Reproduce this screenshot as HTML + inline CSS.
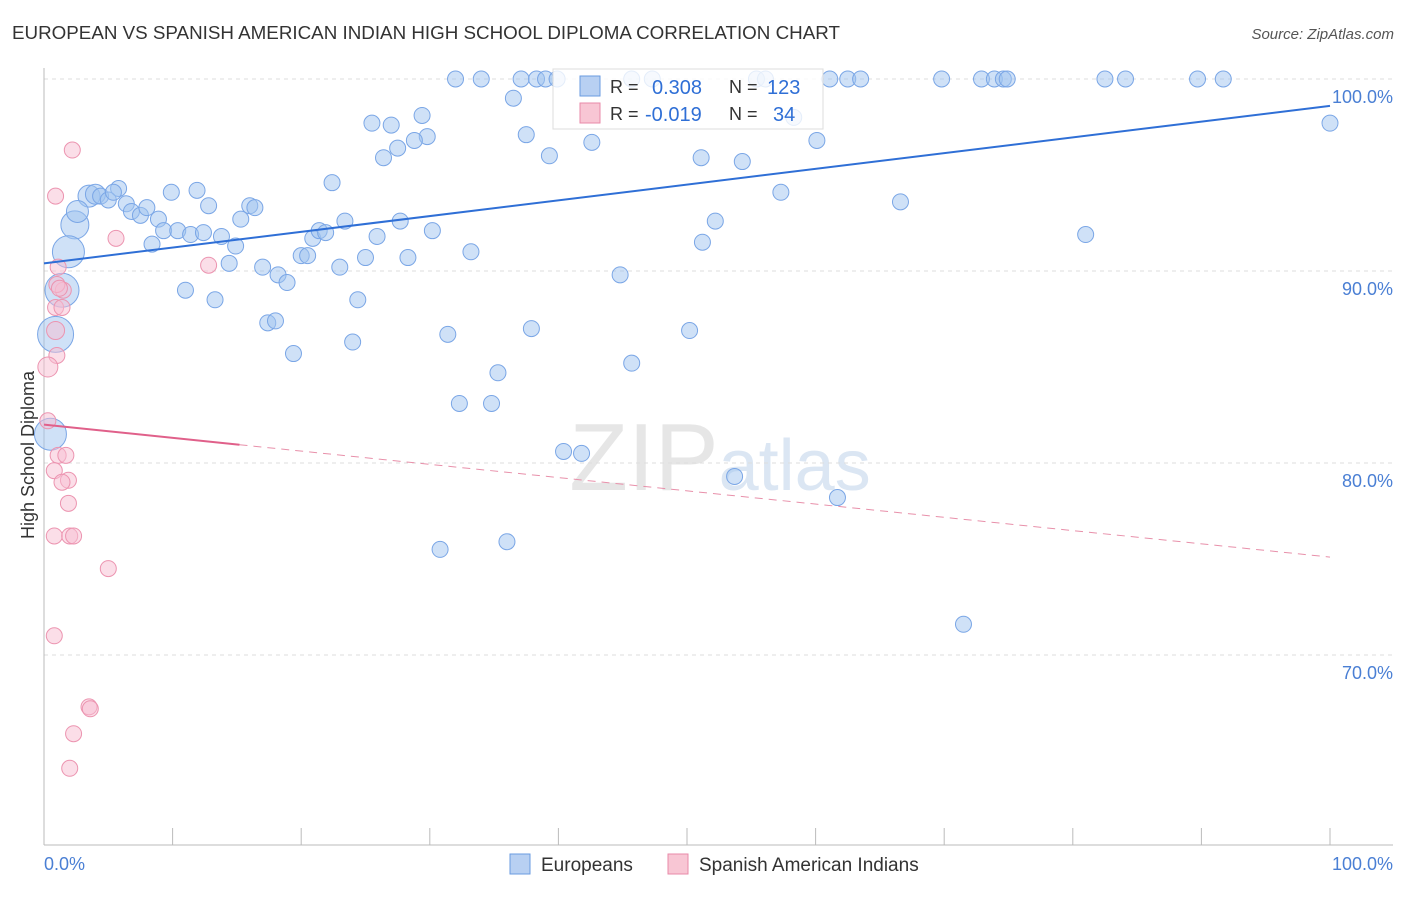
<!DOCTYPE html>
<html><head><meta charset="utf-8"><style>
body{margin:0;background:#fff;font-family:"Liberation Sans",sans-serif;}
svg text{font-family:"Liberation Sans",sans-serif;}
</style></head><body>
<svg id="c" width="1406" height="892" xmlns="http://www.w3.org/2000/svg">
<text x="12" y="39" font-size="18.8" fill="#333">EUROPEAN VS SPANISH AMERICAN INDIAN HIGH SCHOOL DIPLOMA CORRELATION CHART</text>
<text x="1394" y="39" font-size="15" fill="#555" font-style="italic" text-anchor="end">Source: ZipAtlas.com</text>
<text x="720" y="490" font-size="96" fill="#e6e6e6" text-anchor="middle" font-family="Liberation Serif">ZIP<tspan fill="#dbe6f3" font-family="Liberation Sans" font-size="72">atlas</tspan></text>
<g id="grid"></g>
<g id="axes"></g>
<g id="pts"></g>
<g id="trend"></g>
<text transform="translate(34,455) rotate(-90)" font-size="18" fill="#333" text-anchor="middle">High School Diploma</text>
<text x="44" y="870" font-size="18" fill="#4a7fd4">0.0%</text>
<text x="1393" y="870" font-size="18" fill="#4a7fd4" text-anchor="end">100.0%</text>
<g>
<rect x="553" y="69" width="270" height="60" fill="#fff" fill-opacity="0.8" stroke="#ddd"/>
<rect x="580" y="76" width="20" height="20" fill="#b8d0f2" stroke="#6a9be0"/>
<rect x="580" y="103" width="20" height="20" fill="#f8c6d4" stroke="#e88aa8"/>
<text x="610" y="93" font-size="18" fill="#333">R =</text>
<text x="652" y="94" font-size="20" fill="#2f6fd6">0.308</text>
<text x="729" y="93" font-size="18" fill="#333">N =</text>
<text x="767" y="94" font-size="20" fill="#2f6fd6">123</text>
<text x="610" y="120" font-size="18" fill="#333">R =</text>
<text x="645" y="121" font-size="20" fill="#2f6fd6">-0.019</text>
<text x="729" y="120" font-size="18" fill="#333">N =</text>
<text x="773" y="121" font-size="20" fill="#2f6fd6">34</text>
</g>
<g>
<rect x="510" y="854" width="20" height="20" fill="#b8d0f2" stroke="#6a9be0"/>
<text x="541" y="871" font-size="19" fill="#333">Europeans</text>
<rect x="668" y="854" width="20" height="20" fill="#f8c6d4" stroke="#e88aa8"/>
<text x="699" y="871" font-size="19" fill="#333">Spanish American Indians</text>
</g>
</svg>
<script>
const yTicks=[100,90,80,70];
const xTickCount=10;
const blueX=[32.0,34.0,37.1,38.3,39.0,39.9,45.7,47.3,55.4,56.1,61.1,62.5,63.5,69.8,72.9,73.9,74.6,74.9,82.5,84.1,89.7,91.7,100,36.5,29.4,25.5,27.0,37.5,29.8,28.8,27.5,26.4,39.3,42.6,51.1,54.3,60.1,58.3,22.4,57.3,66.6,52.2,51.2,81.0,3.5,4.0,5.8,4.4,5.0,5.4,9.9,11.9,6.4,6.8,7.5,8.0,8.9,9.3,10.4,11.4,12.4,12.8,13.8,14.9,15.3,16.0,16.4,8.4,14.4,17.0,18.2,18.9,20.0,20.5,20.9,21.4,21.9,23.4,23.0,25.0,25.9,27.7,28.3,30.2,33.2,24.4,24.0,19.4,17.4,18.0,11.0,13.3,31.4,37.9,44.8,50.2,35.3,32.3,34.8,45.7,40.4,41.8,53.7,61.7,30.8,36.0,71.5,2.4,1.9,2.6,1.4,0.9,0.5];
const blueY=[100,100,100,100,100,100,100,100,100,100,100,100,100,100,100,100,100,100,100,100,100,100,97.7,99.0,98.1,97.7,97.6,97.1,97.0,96.8,96.4,95.9,96.0,96.7,95.9,95.7,96.8,98.0,94.6,94.1,93.6,92.6,91.5,91.9,93.9,94.0,94.3,93.9,93.7,94.1,94.1,94.2,93.5,93.1,92.9,93.3,92.7,92.1,92.1,91.9,92.0,93.4,91.8,91.3,92.7,93.4,93.3,91.4,90.4,90.2,89.8,89.4,90.8,90.8,91.7,92.1,92.0,92.6,90.2,90.7,91.8,92.6,90.7,92.1,91.0,88.5,86.3,85.7,87.3,87.4,89.0,88.5,86.7,87.0,89.8,86.9,84.7,83.1,83.1,85.2,80.6,80.5,79.3,78.2,75.5,75.9,71.6,92.4,91.0,93.1,89.0,86.7,81.5];
const blueR=[8,8,8,8,8,8,8,8,8,8,8,8,8,8,8,8,8,8,8,8,8,8,8,8,8,8,8,8,8,8,8,8,8,8,8,8,8,8,8,8,8,8,8,8,11,10,8,8,8,8,8,8,8,8,8,8,8,8,8,8,8,8,8,8,8,8,8,8,8,8,8,8,8,8,8,8,8,8,8,8,8,8,8,8,8,8,8,8,8,8,8,8,8,8,8,8,8,8,8,8,8,8,8,8,8,8,8,14,16,11,17,18,16];
const pinkX=[2.2,0.9,5.6,12.8,1.1,1.5,0.9,1.4,0.9,1.0,0.3,0.3,1.1,1.7,0.8,1.9,1.4,1.9,0.8,2.0,2.3,5.0,0.8,3.5,3.6,2.3,2.0,1.0,1.2];
const pinkY=[96.3,93.9,91.7,90.3,90.2,89.0,88.1,88.1,86.9,85.6,85.0,82.2,80.4,80.4,79.6,79.1,79.0,77.9,76.2,76.2,76.2,74.5,71.0,67.3,67.2,65.9,64.1,89.3,89.1];
const pinkR=[8,8,8,8,8,8,8,8,9,8,10,8,8,8,8,8,8,8,8,8,8,8,8,8,8,8,8,8,8];
const blueTrend=[90.4,98.6];
const pinkTrend=[82.0,75.1];
const pinkSolidEnd=15.2;
const NS="http://www.w3.org/2000/svg";
const X=v=>44+v*12.86, Y=v=>79+(100-v)*19.2;
function mk(t,a,p){const e=document.createElementNS(NS,t);for(const k in a)e.setAttribute(k,a[k]);document.getElementById(p).appendChild(e);return e;}
yTicks.forEach(t=>{
 const l=mk('line',{x1:44,x2:1393,y1:Y(t),y2:Y(t),stroke:'#ddd','stroke-dasharray':'4,4'},'grid');
 
 
 const tx=mk('text',{x:1393,y:Y(t)+24,'font-size':18,fill:'#4a7fd4','text-anchor':'end'},'grid');
 tx.textContent=t.toFixed(1)+'%';
 
 
});
const ax=mk('line',{x1:44,x2:44,y1:68,y2:845,stroke:'#bbb'},'axes');


const bx=mk('line',{x1:44,x2:1393,y1:845,y2:845,stroke:'#bbb'},'axes');


for(let i=1;i<=xTickCount;i++){const tk=mk('line',{x1:X(i*10),x2:X(i*10),y1:828,y2:845,stroke:'#bbb'},'axes');
 
 }
blueX.forEach((v,i)=>{const c=mk('circle',{cx:X(v),cy:Y(blueY[i]),r:blueR[i],fill:'rgba(160,195,240,0.5)',stroke:'#7aa6e6','stroke-width':1},'pts');
 
 });
pinkX.forEach((v,i)=>{const c=mk('circle',{cx:X(v),cy:Y(pinkY[i]),r:pinkR[i],fill:'rgba(248,190,210,0.5)',stroke:'#ec94b0','stroke-width':1},'pts');
 
 });
const bl=mk('line',{x1:X(0),y1:Y(blueTrend[0]),x2:X(100),y2:Y(blueTrend[1]),stroke:'#2f6fd6','stroke-width':2},'trend');


const pm=pinkTrend[0]+(pinkTrend[1]-pinkTrend[0])*pinkSolidEnd/100;
const p1=mk('line',{x1:X(0),y1:Y(pinkTrend[0]),x2:X(pinkSolidEnd),y2:Y(pm),stroke:'#e0608a','stroke-width':2},'trend');


const p2=mk('line',{x1:X(pinkSolidEnd),y1:Y(pm),x2:X(100),y2:Y(pinkTrend[1]),stroke:'#e890aa','stroke-width':1,'stroke-dasharray':'8,6'},'trend');


</script>
</body></html>
